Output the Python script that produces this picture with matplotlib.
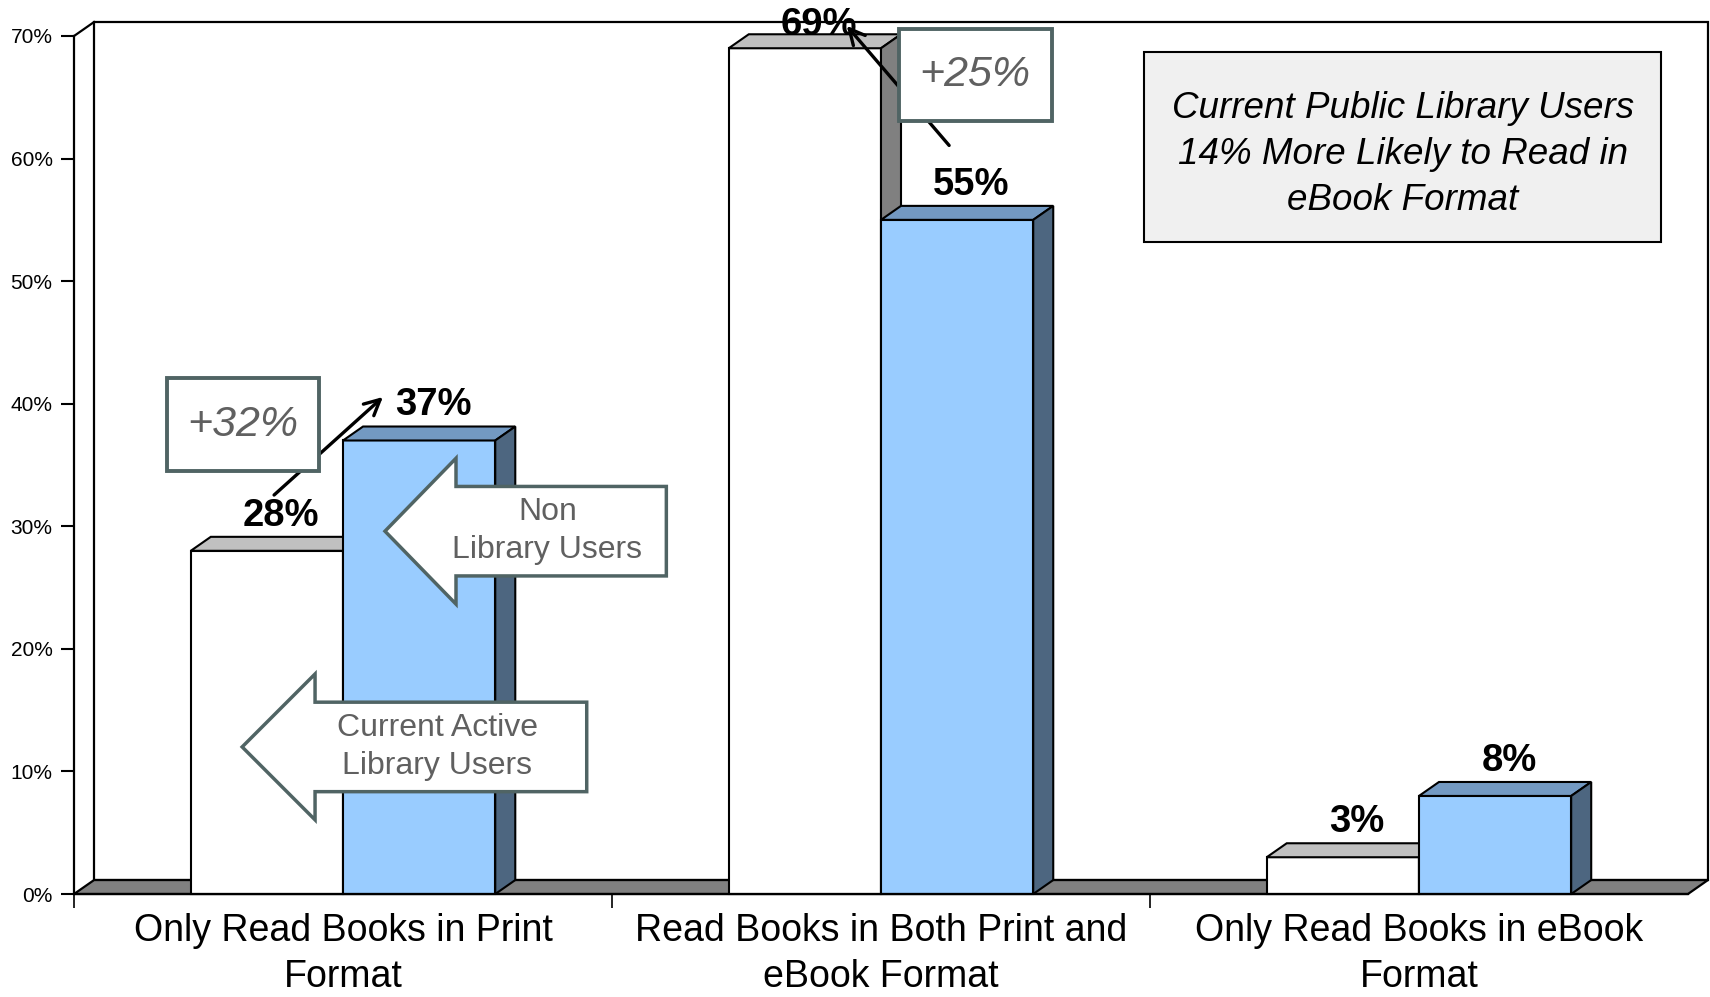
import numpy as np
import matplotlib.pyplot as plt
from matplotlib.patches import Polygon, Rectangle

plt.rcParams['font.family'] = ['Liberation Sans', 'DejaVu Sans']

# data
categories = ['Only Read Books in Print\nFormat',
              'Read Books in Both Print and\neBook Format',
              'Only Read Books in eBook\nFormat']
library_users = [28, 69, 3]
non_library_users = [37, 55, 8]
yticks = [0, 10, 20, 30, 40, 50, 60, 70]
ytick_labels = ['%d%%' % t for t in yticks]

fig = plt.figure(figsize=(17.1, 9.97), dpi=100)
ax = fig.add_axes([0.0433, 0.1033, 0.9438, 0.8606])
ax.set_xlim(0, 3)
ax.set_ylim(0, 70)

# 3d depth offsets in data units
dx, dy = 0.0372, 1.14
bw = 0.283
ncat = len(categories)

# back wall, left wall, floor
ax.add_patch(Rectangle((dx, dy), ncat, 70, fc='white', ec='black', lw=1.6, zorder=0, clip_on=False))
ax.plot([0, dx], [70, 70 + dy], color='black', lw=1.6, zorder=1, clip_on=False)
ax.add_patch(Polygon([(0, 0), (ncat, 0), (ncat + dx, dy), (dx, dy)], fc='#808080', ec='black',
                     lw=1.6, zorder=1, clip_on=False))


def bar3d(x0, h, front, top, side, z):
    kw = dict(ec='black', lw=1.5, zorder=z, clip_on=False)
    ax.add_patch(Polygon([(x0, 0), (x0 + bw, 0), (x0 + bw, h), (x0, h)], fc=front, **kw))
    ax.add_patch(Polygon([(x0, h), (x0 + bw, h), (x0 + bw + dx, h + dy), (x0 + dx, h + dy)], fc=top, **kw))
    ax.add_patch(Polygon([(x0 + bw, 0), (x0 + bw + dx, dy), (x0 + bw + dx, h + dy), (x0 + bw, h)], fc=side, **kw))


for i in range(ncat):
    c = i + 0.5
    bar3d(c - bw, library_users[i], 'white', '#c0c0c0', '#808080', 2)
    bar3d(c, non_library_users[i], '#99ccff', '#7399c2', '#4d6680', 3)
    for x0, v in [(c - bw, library_users[i]), (c, non_library_users[i])]:
        ax.text(x0 + bw / 2 + dx / 2 + 0.008, min(v + dy + 0.9, 70.1), '%d%%' % v, ha='center',
                va='baseline', fontsize=27.5, fontweight='bold', zorder=9)

# axes styling
for s in ['top', 'right']:
    ax.spines[s].set_visible(False)
for s in ['left', 'bottom']:
    ax.spines[s].set_linewidth(1.6)
    ax.spines[s].set_zorder(4)
ax.set_yticks(yticks)
ax.set_yticklabels(ytick_labels, fontsize=15)
ax.tick_params(axis='y', length=9.5, width=1.5, pad=6)
ax.set_xticks(np.arange(ncat))
ax.set_xticklabels([])
ax.tick_params(axis='x', which='major', length=10, width=1.2)
ax.set_xticks(np.arange(ncat) + 0.5, minor=True)
ax.set_xticklabels(categories, minor=True, fontsize=27, linespacing=1.33)
ax.tick_params(axis='x', which='minor', length=0, pad=14)

box_ec = '#506464'
grey = '#606060'

# block arrows
def block_arrow(tip, y, headx, head_half, shaft_half, right, text, tx):
    pts = [(tip, y), (headx, y + head_half), (headx, y + shaft_half), (right, y + shaft_half),
           (right, y - shaft_half), (headx, y - shaft_half), (headx, y - head_half)]
    ax.add_patch(Polygon(pts, fc='white', ec=box_ec, lw=2.5, zorder=5, clip_on=False))
    ax.text(tx, y, text, ha='center', va='center', fontsize=23, color=grey, zorder=6, linespacing=1.35)


block_arrow(0.578, 29.6, 0.710, 5.95, 3.65, 1.101, 'Non\nLibrary Users', 0.880)
block_arrow(0.3125, 12.0, 0.448, 5.95, 3.65, 0.953, 'Current Active\nLibrary Users', 0.675)

# change annotations
ax.annotate('', xy=(0.578, 40.7), xytext=(0.368, 32.4),
            arrowprops=dict(arrowstyle='->', lw=2.4, color='black', mutation_scale=28), zorder=6)
ax.add_patch(Rectangle((0.173, 34.5), 0.283, 7.57, fc='white', ec=box_ec, lw=2.8, zorder=7))
ax.text(0.3145, 38.3, '+32%', ha='center', va='center', fontsize=31, style='italic', color=grey, zorder=8)

ax.annotate('', xy=(1.433, 71.0), xytext=(1.630, 60.9),
            arrowprops=dict(arrowstyle='->', lw=2.4, color='black', mutation_scale=28), zorder=6,
            annotation_clip=False)
ax.add_patch(Rectangle((1.533, 63.05), 0.284, 7.5, fc='white', ec=box_ec, lw=2.8, zorder=7, clip_on=False))
ax.text(1.675, 66.8, '+25%', ha='center', va='center', fontsize=31, style='italic', color=grey, zorder=8)

# summary box
ax.add_patch(Rectangle((1.989, 53.18), 0.961, 15.49, fc='#f0f0f0', ec='black', lw=1.5, zorder=7))
ax.text(2.470, 60.35, 'Current Public Library Users\n14% More Likely to Read in\neBook Format',
        ha='center', va='center', fontsize=26.5, style='italic', color='black', zorder=8, linespacing=1.4)

fig.savefig('out.png', dpi=100)
